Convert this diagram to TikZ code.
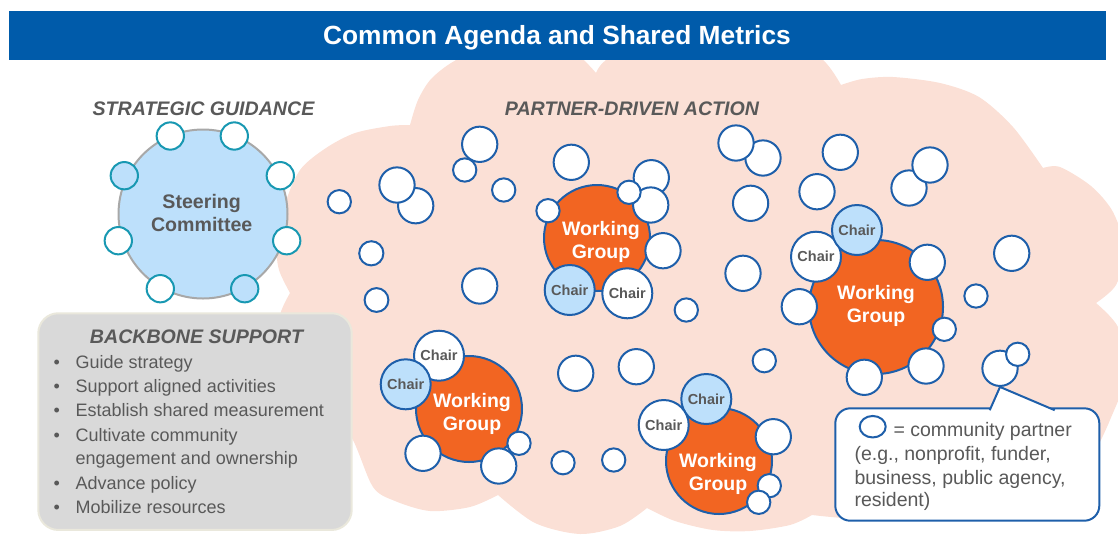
\documentclass[tikz,border=0pt]{standalone}
\usepackage{fontspec}
\setmainfont{Liberation Sans}
\usetikzlibrary{shapes.geometric}
\definecolor{titleblue}{RGB}{0,91,170}
\definecolor{cloudpink}{RGB}{251,224,214}
\definecolor{cpblue}{RGB}{30,95,170}
\definecolor{ringteal}{RGB}{24,152,178}
\definecolor{lightblue}{RGB}{189,224,251}
\definecolor{wgorange}{RGB}{242,101,34}
\definecolor{txtgray}{RGB}{89,89,89}
\definecolor{scborder}{RGB}{168,168,168}
\definecolor{bbfill}{RGB}{217,217,217}
\definecolor{bbborder}{RGB}{234,232,220}
\begin{document}
\begin{tikzpicture}[x=1pt,y=-1pt,
  cp/.style={circle, draw=cpblue, fill=white, line width=2pt, inner sep=0pt, minimum size=#1},
  cp/.default=35.3,
  ringw/.style={circle, draw=ringteal, fill=white, line width=2pt, inner sep=0pt, minimum size=27.3},
  ringb/.style={ringw, fill=lightblue},
  wg/.style={circle, draw=cpblue, fill=wgorange, line width=2pt, inner sep=0pt, minimum size=#1},
  chairw/.style={circle, draw=cpblue, fill=white, line width=2pt, inner sep=0pt, minimum size=50, font=\fontsize{14.5}{16}\selectfont\bfseries, text=txtgray},
  chairb/.style={chairw, fill=lightblue},
  lbl/.style={inner sep=0pt, anchor=base},
  head/.style={lbl, text=txtgray, font=\fontsize{19.6}{23}\selectfont\bfseries\itshape},
  sctext/.style={lbl, text=txtgray, font=\fontsize{19.6}{23}\selectfont\bfseries},
  wgtext/.style={lbl, text=white, font=\fontsize{19.5}{23}\selectfont\bfseries},
  bullettext/.style={inner sep=0pt, anchor=base west, text=txtgray, font=\fontsize{18}{22}\selectfont},
  bulletdot/.style={lbl, text=txtgray, font=\fontsize{18}{22}\selectfont},
  legtext/.style={inner sep=0pt, anchor=base west, text=txtgray, font=\fontsize{19.5}{23}\selectfont},
]
\useasboundingbox (0,0) rectangle (1118,542);
% cloud
\begin{scope}
\clip (0,0) rectangle (1118,542);
\fill[cloudpink]
  plot[smooth] coordinates {(290,293) (279,270) (277,247) (284,207) (300,170) (326,148) (355,133) (390,126) (410,125)}
  -- plot[smooth] coordinates {(410,125) (418,100) (432,78) (460,58) (516,38) (570,50) (596,73)}
  -- plot[smooth] coordinates {(596,73) (606,60) (650,32) (715,18) (780,32) (823,60) (841,85)}
  -- plot[smooth] coordinates {(841,85) (862,79) (893,77) (940,83) (979,97) (1013,127) (1043,168)}
  -- plot[smooth] coordinates {(1043,168) (1060,167) (1091,186) (1113,212) (1125,250) (1116,285) (1096,303)}
  -- plot[smooth] coordinates {(1096,303) (1118,327) (1128,370) (1110,420) (1096,450)}
  -- plot[smooth] coordinates {(1096,450) (1080,500) (1040,517) (950,519) (860,519) (812,515)}
  -- plot[smooth] coordinates {(812,515) (790,525) (750,531) (713,530) (675,521) (647,508)}
  -- plot[smooth] coordinates {(647,508) (620,526) (580,534) (535,523) (498,495)}
  -- plot[smooth] coordinates {(498,495) (470,507) (430,511) (395,501) (373,487) (353,440) (320,380) (290,335) (280,316) (290,293)}
  -- cycle;
\end{scope}
% title bar
\fill[titleblue] (9,11) rectangle (1106,59.5);
\node[lbl, text=white, font=\fontsize{26.3}{30}\selectfont\bfseries] (title) at (557,44.5) {Common Agenda and Shared Metrics};
% headings
\node[head] (hsg) at (203.5,115) {STRATEGIC GUIDANCE};
\node[head] (hpd) at (632,115) {PARTNER-DRIVEN ACTION};
% steering committee
\node[circle, draw=scborder, fill=lightblue, line width=2pt, inner sep=0pt, minimum size=169] (sc) at (203,214) {};
\node[sctext] (sc1) at (201.7,208.3) {Steering};
\node[sctext] (sc2) at (201.7,231.7) {Committee};
\node[ringw] (t1) at (170.3,136) {};
\node[ringw] (t2) at (234.3,136) {};
\node[ringb] (t3) at (124.3,175.7) {};
\node[ringw] (t4) at (280.3,175.7) {};
\node[ringw] (t5) at (118.3,240.7) {};
\node[ringw] (t6) at (286.7,240.7) {};
\node[ringw] (t7) at (160.3,288.7) {};
\node[ringb] (t8) at (244.7,288.7) {};
% backbone support
\node[rectangle, rounded corners=20pt, draw=bbborder, fill=bbfill, line width=2pt, inner sep=0pt, minimum width=313.4, minimum height=216.7] (bb) at (195,421.6) {};
\node[head] (bbh) at (196.5,343.3) {BACKBONE SUPPORT};
\node[bulletdot] (b1) at (56.7,368.3) {•};
\node[bulletdot] (b2) at (56.7,392.3) {•};
\node[bulletdot] (b3) at (56.7,416.7) {•};
\node[bulletdot] (b4) at (56.7,441.7) {•};
\node[bulletdot] (b5) at (56.7,489.3) {•};
\node[bulletdot] (b6) at (56.7,513.3) {•};
\node[bullettext] (bt1) at (75.5,368.3) {Guide strategy};
\node[bullettext] (bt2) at (75.5,392.3) {Support aligned activities};
\node[bullettext] (bt3) at (75.5,416.7) {Establish shared measurement};
\node[bullettext] (bt4) at (75.5,441.7) {Cultivate community};
\node[bullettext] (bt5) at (75.5,464) {engagement and ownership};
\node[bullettext] (bt6) at (75.5,489.3) {Advance policy};
\node[bullettext] (bt7) at (75.5,513.3) {Mobilize resources};
% free community partners
\node[cp=23.3] (p1) at (339.3,201.7) {};
\node[cp=24.2] (p2) at (371.3,253.3) {};
\node[cp=23.8] (p3) at (376.5,300) {};
\node[cp=23.3] (p4) at (464.7,170) {};
\node[cp] (p5) at (479.7,144.3) {};
\node[cp] (p6) at (415.7,205.7) {};
\node[cp] (p7) at (397,185) {};
\node[cp=23.3] (p8) at (503.7,190) {};
\node[cp] (p9) at (571.3,162.3) {};
\node[cp] (p10) at (479.7,286) {};
\node[cp=23.3] (p11) at (686.3,310) {};
\node[cp] (p12) at (763,158) {};
\node[cp] (p13) at (736,143) {};
\node[cp] (p14) at (840.3,152.3) {};
\node[cp] (p15) at (817,191.7) {};
\node[cp] (p16) at (750.6,203.3) {};
\node[cp] (p17) at (743,273.3) {};
\node[cp] (p18) at (909,188) {};
\node[cp] (p19) at (930,165) {};
\node[cp] (p20) at (1011.7,253.3) {};
\node[cp=23.3] (p21) at (976,296) {};
\node[cp=23.3] (p22) at (764.3,360.7) {};
\node[cp] (p23) at (575.7,373.3) {};
\node[cp] (p24) at (636.3,366.7) {};
\node[cp=23.3] (p25) at (563,462.7) {};
\node[cp=23.3] (p26) at (613.7,460) {};
\node[cp] (p27) at (1000,368.3) {};
\node[cp=23.3] (p28) at (1017.7,354.3) {};
% working group 1
\node[wg=106] (wg1) at (597,238) {};
\node[cp] (p29) at (651.3,177.7) {};
\node[cp] (p30) at (650.7,205) {};
\node[cp=23.3] (p31) at (629,192.3) {};
\node[cp=23.3] (p32) at (548,210.7) {};
\node[cp] (p33) at (663,250.7) {};
\node[chairb] (c1) at (569.7,290) {Chair};
\node[chairw] (c2) at (627.3,293.3) {Chair};
\node[wgtext] (w1a) at (601,235) {Working};
\node[wgtext] (w1b) at (601,258.3) {Group};
% working group 2
\node[wg=134] (wg2) at (876,307) {};
\node[chairw] (c3) at (816,256.7) {Chair};
\node[chairb] (c4) at (857,230) {Chair};
\node[cp] (p34) at (927.3,262.3) {};
\node[cp] (p35) at (799.3,306.7) {};
\node[cp=23.3] (p36) at (944.3,329.3) {};
\node[cp] (p37) at (926,366) {};
\node[cp] (p38) at (864.3,377.3) {};
\node[wgtext] (w2a) at (876,299.5) {Working};
\node[wgtext] (w2b) at (876,322.8) {Group};
% working group 3
\node[wg=106] (wg3) at (469,409) {};
\node[chairw] (c5) at (439,355.7) {Chair};
\node[chairb] (c6) at (405.7,384.3) {Chair};
\node[cp] (p39) at (423,453.3) {};
\node[cp=23.3] (p40) at (519,443.3) {};
\node[cp] (p41) at (498.7,466) {};
\node[wgtext] (w3a) at (472,407.3) {Working};
\node[wgtext] (w3b) at (472,430.7) {Group};
% working group 4
\node[wg=106] (wg4) at (719,461) {};
\node[chairb] (c7) at (706.3,399) {Chair};
\node[chairw] (c8) at (663.7,425) {Chair};
\node[cp] (p42) at (773.3,436.7) {};
\node[cp=23.3] (p43) at (769.3,485.7) {};
\node[cp=23.3] (p44) at (758.7,502.3) {};
\node[wgtext] (w4a) at (718,467.3) {Working};
\node[wgtext] (w4b) at (718,490.7) {Group};
% legend callout
\node[rectangle, rounded corners=15pt, draw=cpblue, fill=white, line width=2pt, inner sep=0pt, minimum width=264, minimum height=112.4] (legend) at (967.3,464.5) {};
\coordinate (tailL) at (989.7,410.2);
\coordinate (tailR) at (1054.7,410.2);
\fill[white] (tailL) -- (p27.south) -- (tailR) -- cycle;
\draw[cpblue, line width=2pt, line join=miter] (tailL) -- (p27.south) -- (tailR);
\node[ellipse, draw=cpblue, fill=white, line width=2pt, inner sep=0pt, minimum width=26, minimum height=21.5] (legc) at (872.7,426.7) {};
\node[legtext] (l1) at (893.3,436.7) {= community partner};
\node[legtext] (l2) at (854.3,460) {(e.g., nonprofit, funder,};
\node[legtext] (l3) at (854.3,484.3) {business, public agency,};
\node[legtext] (l4) at (854.3,506.7) {resident)};
\end{tikzpicture}
\end{document}
